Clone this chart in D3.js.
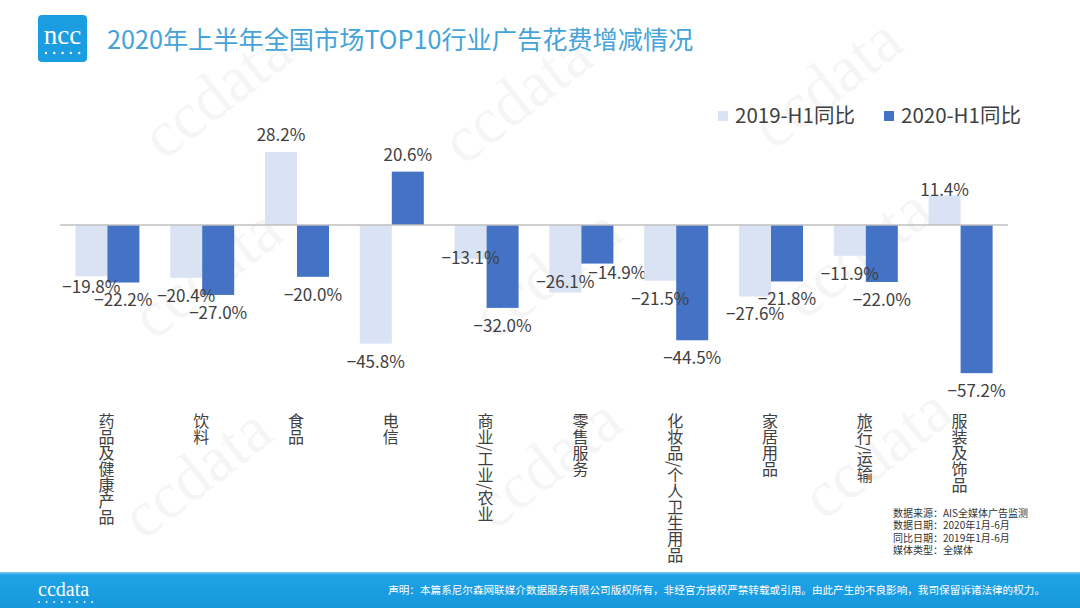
<!DOCTYPE html>
<html lang="zh">
<head>
<meta charset="UTF-8">
<title>2020年上半年全国市场TOP10行业广告花费增减情况</title>
<script src="https://d3js.org/d3.v7.min.js"></script>
<style>
  body { margin: 0; background: #fff; }
  svg { display: block; font-family: "Noto Sans CJK SC", "Noto Sans", sans-serif; }
  .cat { writing-mode: vertical-rl; }
</style>
</head>
<body>
<script>
// data
const categories = ["药品及健康产品", "饮料", "食品", "电信", "商业/工业/农业",
                    "零售服务", "化妆品/个人卫生用品", "家居用品", "旅行/运输", "服装及饰品"];
const series = ["2019-H1同比", "2020-H1同比"];
const values2019 = [-19.8, -20.4, 28.2, -45.8, -13.1, -26.1, -21.5, -27.6, -11.9, 11.4];
const values2020 = [-22.2, -27.0, -20.0, 20.6, -32.0, -14.9, -44.5, -21.8, -22.0, -57.2];
const notes = ["数据来源：AIS全媒体广告监测", "数据日期：2020年1月-6月",
               "同比日期：2019年1月-6月", "媒体类型：全媒体"];

const colors = ["#dae3f3", "#4472c4"];
const width = 1080, height = 608;

const svg = d3.select("body").append("svg")
    .attr("width", width)
    .attr("height", height);

// faint watermarks
const marks = [[230, 110], [530, 115], [840, 100], [220, 290], [560, 290], [870, 270], [210, 490], [560, 480], [890, 470]];
svg.append("g").selectAll("text")
    .data(marks)
    .enter().append("text")
    .attr("transform", d => `translate(${d[0]},${d[1]}) rotate(-38)`)
    .attr("text-anchor", "middle")
    .attr("font-family", "Liberation Serif, DejaVu Serif, serif")
    .attr("font-size", 66)
    .attr("fill", "#000")
    .attr("fill-opacity", 0.04)
    .text("ccdata");

// header
svg.append("rect").attr("x", 38).attr("y", 15).attr("width", 49).attr("height", 47)
    .attr("rx", 4).attr("fill", "#1b9de2");
svg.append("text").attr("x", 62.5).attr("y", 44).attr("text-anchor", "middle")
    .attr("font-family", "Liberation Serif, DejaVu Serif, serif")
    .attr("font-size", 27).attr("fill", "#fff").text("ncc");
svg.append("g").selectAll("circle").data(d3.range(5)).enter().append("circle")
    .attr("cx", d => 46 + d * 8.3).attr("cy", 53).attr("r", 1.2).attr("fill", "#fff");

svg.append("text")
    .attr("x", 107).attr("y", 49)
    .attr("font-size", 25.2)
    .attr("fill", "#45a3d8")
    .text("2020年上半年全国市场TOP10行业广告花费增减情况");

// scales
const x0 = d3.scaleBand()
    .domain(categories)
    .range([60, 1008])
    .paddingInner(0.325)
    .paddingOuter(0.1625);

const x1 = d3.scaleBand()
    .domain(series)
    .range([0, x0.bandwidth()]);

const y = d3.scaleLinear()
    .domain([-60, 30])
    .range([225 + 60 * 2.59, 225 - 30 * 2.59]);

const rows = categories.map((c, i) => ({
    cat: c,
    vals: [
        { key: series[0], value: values2019[i], idx: i, s: 0 },
        { key: series[1], value: values2020[i], idx: i, s: 1 }
    ]
}));

const group = svg.append("g").selectAll("g")
    .data(rows)
    .enter().append("g")
    .attr("transform", d => `translate(${x0(d.cat)},0)`);

group.selectAll("rect")
    .data(d => d.vals)
    .enter().append("rect")
    .attr("x", d => x1(d.key))
    .attr("width", x1.bandwidth())
    .attr("y", d => y(Math.max(0, d.value)))
    .attr("height", d => Math.abs(y(d.value) - y(0)))
    .attr("fill", d => colors[d.s]);

// zero line
svg.append("line")
    .attr("x1", 60).attr("x2", 1008)
    .attr("y1", y(0)).attr("y2", y(0))
    .attr("stroke", "#bfbfbf").attr("stroke-width", 1.5);

// value labels (a few were moved by hand in the original to avoid overlaps)
const nudge = {
    "0-0": [0, -7], "4-0": [0, -19], "5-0": [0, -29], "5-1": [20, -9], "9-0": [0, 12]
};
const fmt = v => (v < 0 ? "\u2212" : "") + Math.abs(v).toFixed(1) + "%";

group.selectAll("text.val")
    .data(d => d.vals)
    .enter().append("text")
    .attr("class", "val")
    .attr("text-anchor", "middle")
    .attr("font-size", 17)
    .attr("fill", "#404040")
    .attr("x", d => x1(d.key) + x1.bandwidth() / 2 + (nudge[d.idx + "-" + d.s] || [0, 0])[0])
    .attr("y", d => y(d.value) + (d.value < 0 ? 24 : -11) + (nudge[d.idx + "-" + d.s] || [0, 0])[1])
    .text(d => fmt(d.value));

// category labels, vertical
svg.append("g").selectAll("text")
    .data(categories)
    .enter().append("text")
    .attr("class", "cat")
    .attr("x", d => x0(d) + x0.bandwidth() / 2 - 1)
    .attr("y", 413)
    .attr("font-size", 16)
    .attr("fill", "#404040")
    .text(d => d);

// legend
const legend = svg.append("g").selectAll("g")
    .data(series)
    .enter().append("g")
    .attr("transform", (d, i) => `translate(${718 + i * 166},111)`);
legend.append("rect").attr("width", 10).attr("height", 10).attr("fill", (d, i) => colors[i]);
legend.append("text").attr("x", 17).attr("y", 12).attr("font-size", 20.5)
    .attr("fill", "#404040").text(d => d);

// source notes
svg.append("g").selectAll("text")
    .data(notes)
    .enter().append("text")
    .attr("x", 893)
    .attr("y", (d, i) => 517 + i * 12.3)
    .attr("font-size", 10)
    .attr("fill", "#333")
    .text(d => d);

// footer
const grad = svg.append("defs").append("linearGradient")
    .attr("id", "foot").attr("x1", 0).attr("x2", 0).attr("y1", 0).attr("y2", 1);
grad.append("stop").attr("offset", 0).attr("stop-color", "#7fd0f5");
grad.append("stop").attr("offset", 0.08).attr("stop-color", "#1ea2e6");
grad.append("stop").attr("offset", 1).attr("stop-color", "#1798dc");
svg.append("rect").attr("x", 0).attr("y", 572).attr("width", width).attr("height", 36)
    .attr("fill", "url(#foot)");
svg.append("text").attr("x", 38).attr("y", 596)
    .attr("font-family", "Liberation Serif, DejaVu Serif, serif")
    .attr("font-size", 20).attr("fill", "#fff").text("ccdata");
svg.append("g").selectAll("circle").data(d3.range(8)).enter().append("circle")
    .attr("cx", d => 39 + d * 7.6).attr("cy", 602).attr("r", 0.9).attr("fill", "#fff");
svg.append("text").attr("x", 1045).attr("y", 594).attr("text-anchor", "end")
    .attr("font-size", 10.6).attr("fill", "#fff")
    .text("声明：本篇系尼尔森网联媒介数据服务有限公司版权所有，非经官方授权严禁转载或引用。由此产生的不良影响，我司保留诉诸法律的权力。");
</script>
</body>
</html>
